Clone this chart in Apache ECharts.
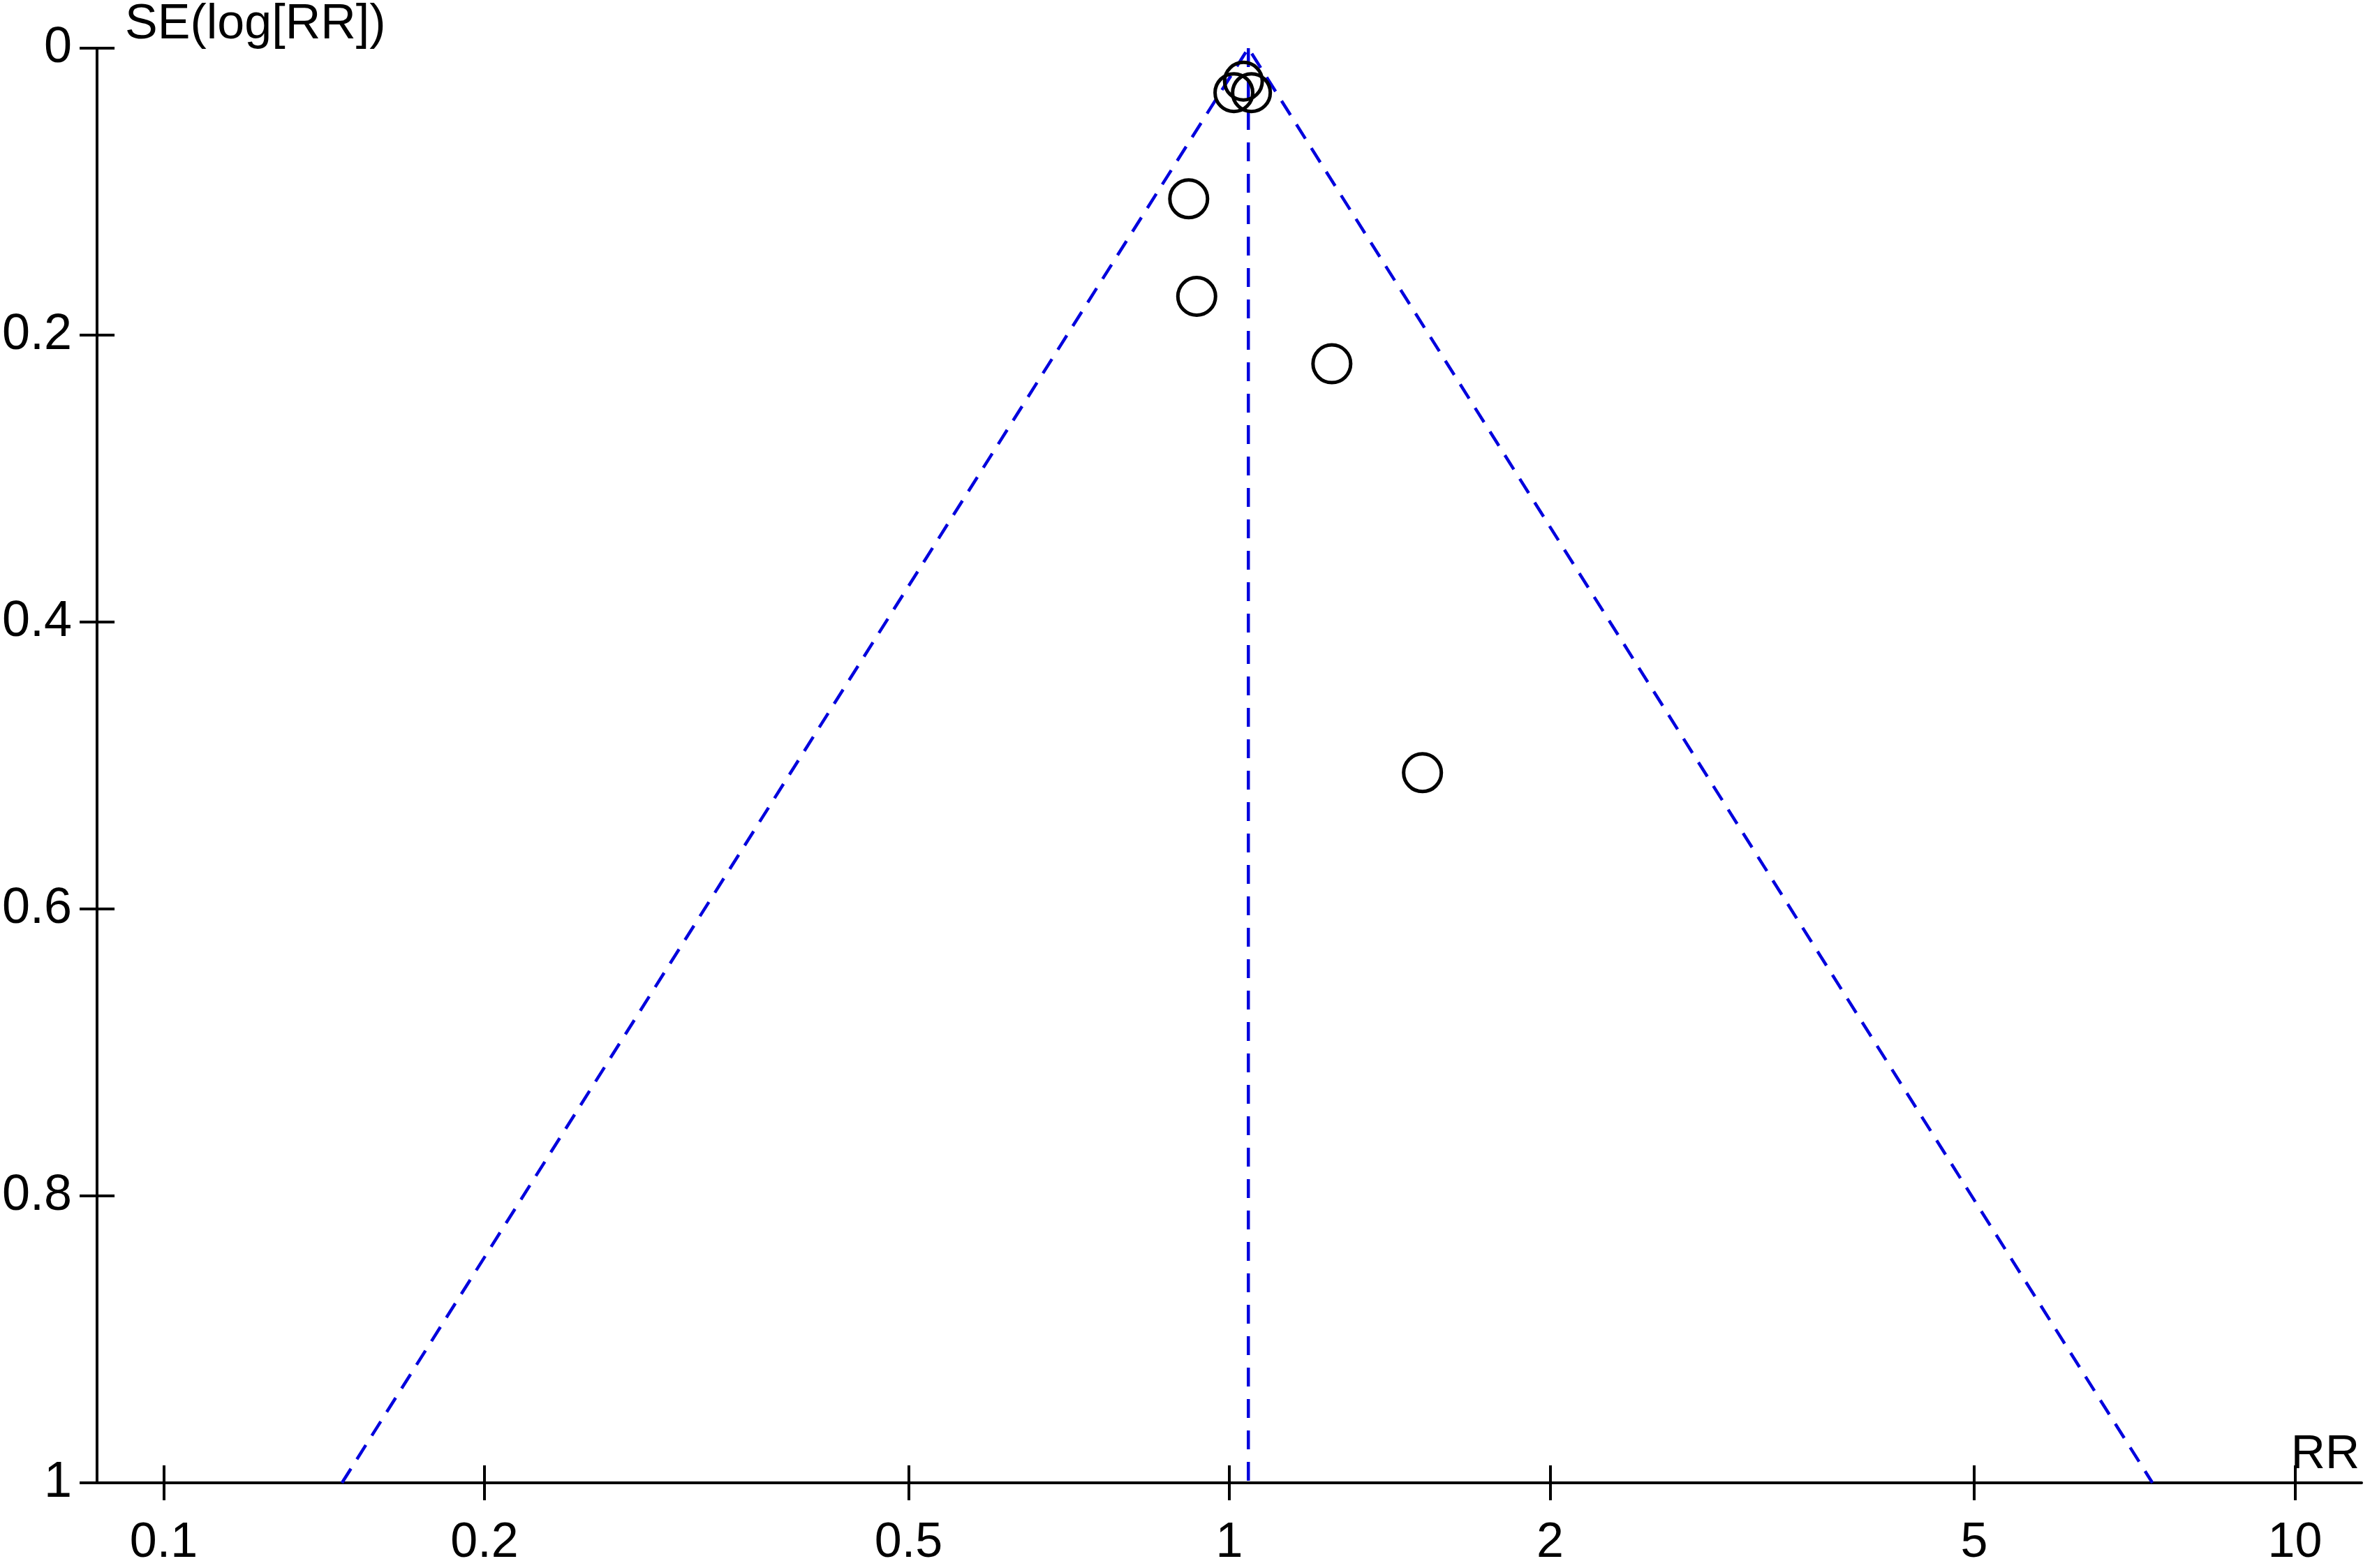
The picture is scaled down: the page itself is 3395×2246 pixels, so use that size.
<!DOCTYPE html>
<html><head><meta charset="utf-8">
<script src="https://cdn.jsdelivr.net/npm/echarts@6/dist/echarts.min.js"></script>
<style>html,body{margin:0;padding:0;background:#fff}#c{width:3395px;height:2246px}</style>
</head><body><div id="c"></div>
<script>
// Study estimates (risk ratio) and their standard errors of log(RR)
const studyRR = [1.010, 1.049, 1.031, 0.916, 0.932, 1.248, 1.518];
const studySE = [0.031, 0.031, 0.023, 0.105, 0.173, 0.220, 0.505];
// Pooled estimate (vertical line)
const pooledRR = 1.042;
const pooledSE = [0, 1];
// Funnel (pseudo 95% confidence limits)
const funnelRR = [0.147, 1.042, 7.35];
const funnelSE = [1, 0, 1];
// Axis ticks
const xTicks = [0.1, 0.2, 0.5, 1, 2, 5, 10];
const yTicks = [0, 0.2, 0.4, 0.6, 0.8, 1];
const xRange = [0.0866, 11.55];
const yRange = [0, 1];

const FONT = 'Liberation Sans, Arial, sans-serif';
const lg = v => Math.log10(v);
const xTickVals = xTicks.map(lg);

const chart = echarts.init(document.getElementById('c'), null, {renderer: 'canvas'});

const baseX = {
  type: 'value', min: lg(xRange[0]), max: lg(xRange[1]),
  position: 'bottom', splitLine: {show: false}
};
const baseY = {
  type: 'value', min: yRange[0], max: yRange[1], interval: 0.2, inverse: true,
  position: 'left', splitLine: {show: false}
};

chart.setOption({
  animation: false,
  backgroundColor: '#ffffff',
  grid: {left: 138, right: 12, top: 69, bottom: 108, containLabel: false},
  xAxis: [
    Object.assign({}, baseX, {
      name: 'RR', nameLocation: 'end', nameGap: -3,
      nameTextStyle: {fontFamily: FONT, fontSize: 68, color: '#000', align: 'right', verticalAlign: 'bottom', padding: [0, 0, 6, 0]},
      axisLine: {show: true, onZero: false, lineStyle: {color: '#000', width: 4}},
      axisTick: {show: true, inside: false, length: 25, lineStyle: {color: '#000', width: 4}, customValues: xTickVals},
      axisLabel: {show: true, margin: 52, fontFamily: FONT, fontSize: 70, color: '#000', customValues: xTickVals,
        formatter: v => String(Number(Math.pow(10, v).toPrecision(2)))}
    }),
    Object.assign({}, baseX, {
      axisLine: {show: false, onZero: false},
      axisTick: {show: true, inside: true, length: 25, lineStyle: {color: '#000', width: 4}, customValues: xTickVals},
      axisLabel: {show: false}
    })
  ],
  yAxis: [
    Object.assign({}, baseY, {
      name: 'SE(log[RR])', nameLocation: 'start', nameGap: -2,
      nameTextStyle: {fontFamily: FONT, fontSize: 70, color: '#000', align: 'left', verticalAlign: 'bottom', padding: [0, 0, 0, 40]},
      axisLine: {show: true, onZero: false, lineStyle: {color: '#000', width: 4}},
      axisTick: {show: true, inside: false, length: 25, lineStyle: {color: '#000', width: 4}},
      axisLabel: {show: true, margin: 36, fontFamily: FONT, fontSize: 72, color: '#000',
        formatter: v => String(Number(v.toFixed(1)))}
    }),
    Object.assign({}, baseY, {
      axisLine: {show: false, onZero: false},
      axisTick: {show: true, inside: true, length: 25, lineStyle: {color: '#000', width: 4}},
      axisLabel: {show: false}
    })
  ],
  series: [
    {
      type: 'line', xAxisIndex: 0, yAxisIndex: 0, silent: true,
      data: funnelRR.map((r, i) => [lg(r), funnelSE[i]]),
      symbol: 'none', lineStyle: {color: '#0000dd', width: 4.5, type: [24, 16]}, z: 2
    },
    {
      type: 'line', xAxisIndex: 0, yAxisIndex: 0, silent: true,
      data: pooledSE.map(s => [lg(pooledRR), s]),
      symbol: 'none', lineStyle: {color: '#0000dd', width: 4.5, type: [27, 18]}, z: 2
    },
    {
      type: 'scatter', xAxisIndex: 0, yAxisIndex: 0,
      data: studyRR.map((r, i) => [lg(r), studySE[i]]),
      symbol: 'circle', symbolSize: 54,
      itemStyle: {color: 'rgba(0,0,0,0)', borderColor: '#000', borderWidth: 5, opacity: 1}, z: 3
    }
  ]
});
</script></body></html>
